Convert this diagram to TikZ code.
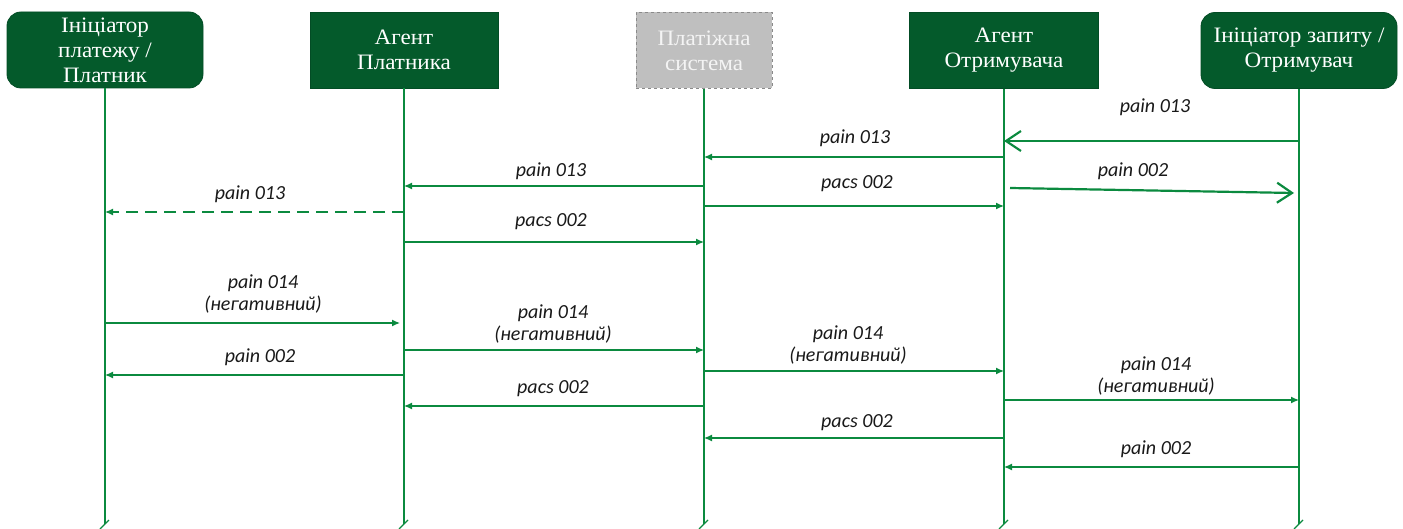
\documentclass[tikz,border=0pt]{standalone}
\usepackage{fontspec}
\setmainfont{Liberation Serif}
\newfontfamily\boxfont[FakeStretch=1.05]{Liberation Serif}
\newfontfamily\lblfont{Carlito}
\usetikzlibrary{arrows.meta,calc}
\definecolor{boxgreen}{HTML}{045A2B}
\definecolor{linegreen}{HTML}{0B8A3F}
\definecolor{sysgray}{HTML}{BFBFBF}
\definecolor{sysborder}{HTML}{8A8A8A}
\definecolor{systext}{HTML}{F4F4F4}

\tikzset{
  actor/.style={fill=boxgreen, draw=boxgreen!85!black, line width=0.8pt, text=white,
    align=center, font=\boxfont\fontsize{22}{25}\selectfont, minimum height=76pt, inner sep=0pt},
  roundactor/.style={actor, rounded corners=14pt},
  sysactor/.style={actor, fill=sysgray, draw=sysborder, dashed, text=systext},
  lifeline/.style={draw=linegreen, line width=1.4pt},
  breakmark/.style={draw=linegreen, line width=1.3pt},
  msg/.style={draw=linegreen, line width=1.2pt, -{Latex[length=8pt,width=7pt]}},
  dashmsg/.style={msg, dash pattern=on 12pt off 7pt},
  bigmsg/.style={draw=linegreen, line width=2.2pt, -{Straight Barb[length=15pt,width=20pt]}},
  lbl/.style={font=\lblfont\itshape\fontsize{20}{22}\selectfont, text=black!90,
    align=center, inner sep=0pt},
}

\begin{document}
\begin{tikzpicture}[x=1pt,y=-1pt]
\useasboundingbox (0,0) rectangle (1403,529);

% participants
\node[roundactor, minimum width=196pt] (p1) at (105,50)
  {Ініціатор\\платежу /\\Платник};
\node[actor, minimum width=188pt] (p2) at (404,50) {Агент\\Платника};
\node[sysactor, minimum width=136pt] (p3) at (704,50.5) {Платіжна\\система};
\node[actor, minimum width=189pt] (p4) at (1004,50.5) {Агент\\Отримувача};
\node[roundactor, minimum width=196pt] (p5) at (1299,50.5)
  {Ініціатор запиту /\\Отримувач};

% lifelines with break marks
\foreach \i/\x in {1/105,2/404,3/704,4/1004,5/1299}{
  \coordinate (L\i) at (\x,524);
  \draw[lifeline] (p\i.south) -- (L\i);
  \draw[breakmark] ($(L\i)+(-5,5)$) -- ($(L\i)+(4,-4)$);
}

% request from the creditor side
\node[lbl] (t1) at (1155,107) {pain 013};
\draw[bigmsg] (L5 |- 0,141) -- (L4 |- 0,141);

\node[lbl] (t2) at (855,138) {pain 013};
\draw[msg] (L4 |- 0,157) -- (L3 |- 0,157);

\node[lbl] (t3) at (551,171) {pain 013};
\draw[msg] (L3 |- 0,186) -- (L2 |- 0,186);

\node[lbl] (t4) at (857,184) {pacs 002};
\draw[msg] (L3 |- 0,206) -- (L4 |- 0,206);

\node[lbl] (t5) at (1133,171) {pain 002};
\draw[bigmsg] ($(L4 |- 0,188)+(6,0)$) -- ($(L5 |- 0,193)+(-5,0)$);

\node[lbl] (t6) at (250,194) {pain 013};
\draw[dashmsg] (L2 |- 0,212) -- (L1 |- 0,212);

\node[lbl] (t7) at (551,222) {pacs 002};
\draw[msg] (L2 |- 0,242) -- (L3 |- 0,242);

% negative responses
\node[lbl] (t8) at (263,294) {pain 014\\(негативний)};
\draw[msg] (L1 |- 0,323) -- ($(L2 |- 0,323)+(-4,0)$);

\node[lbl] (t9) at (553,324) {pain 014\\(негативний)};
\draw[msg] (L2 |- 0,350) -- (L3 |- 0,350);

\node[lbl] (t10) at (260,357) {pain 002};
\draw[msg] (L2 |- 0,375) -- (L1 |- 0,375);

\node[lbl] (t11) at (848,345) {pain 014\\(негативний)};
\draw[msg] (L3 |- 0,371) -- (L4 |- 0,371);

\node[lbl] (t12) at (553,389) {pacs 002};
\draw[msg] (L3 |- 0,406) -- (L2 |- 0,406);

\node[lbl] (t13) at (1156,376) {pain 014\\(негативний)};
\draw[msg] (L4 |- 0,400) -- (L5 |- 0,400);

\node[lbl] (t14) at (857,423) {pacs 002};
\draw[msg] (L4 |- 0,438) -- (L3 |- 0,438);

\node[lbl] (t15) at (1156,449) {pain 002};
\draw[msg] (L5 |- 0,467) -- (L4 |- 0,467);
\end{tikzpicture}
\end{document}
